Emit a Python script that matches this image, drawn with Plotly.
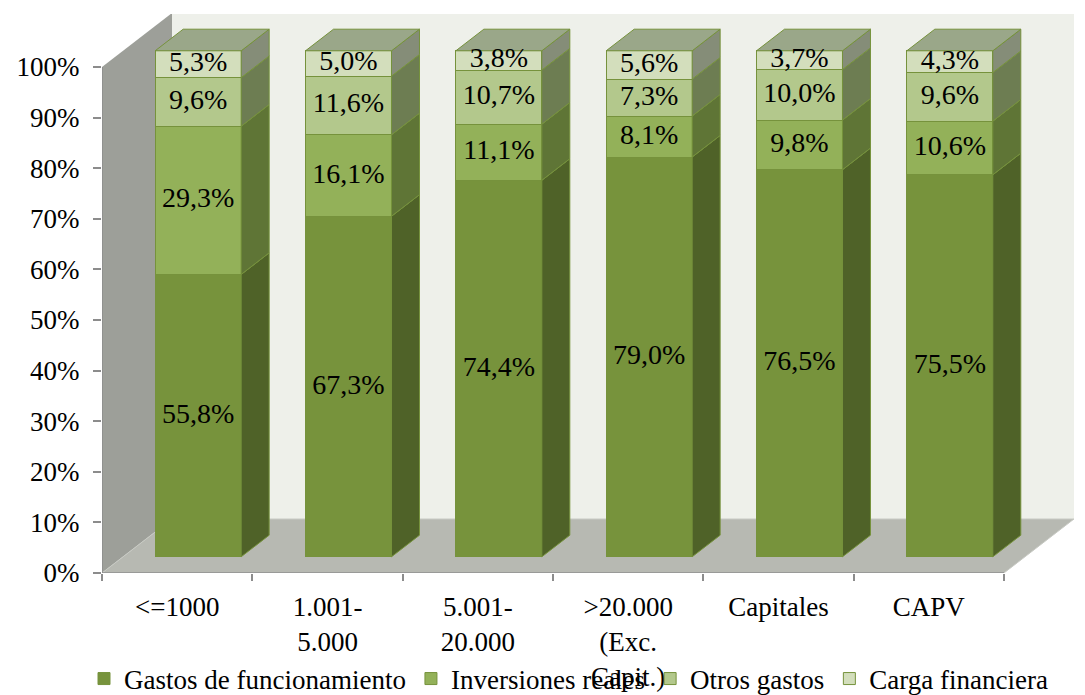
import plotly.graph_objects as go

categories = ["<=1000", "1.001-<br>5.000", "5.001-<br>20.000", ">20.000<br>(Exc.<br>Capit.)", "Capitales", "CAPV"]
series_names = ["Gastos de funcionamiento", "Inversiones reales", "Otros gastos", "Carga financiera"]
gastos = [55.8, 67.3, 74.4, 79.0, 76.5, 75.5]
inversiones = [29.3, 16.1, 11.1, 8.1, 9.8, 10.6]
otros = [9.6, 11.6, 10.7, 7.3, 10.0, 9.6]
carga = [5.3, 5.0, 3.8, 5.6, 3.7, 4.3]
y_ticks = [0, 10, 20, 30, 40, 50, 60, 70, 80, 90, 100]

series = [gastos, inversiones, otros, carga]
front_colors = ["#77933C", "#93B159", "#B3C88C", "#D3DEBC"]
side_colors = ["#4F6228", "#5F7536", "#6D7D52", "#858D78"]
top_color = "#9AA789"
edge = "#76923C"
FONT = "Liberation Serif"

# geometry (in data units of the front axes)
W, H = 1085, 695
ml, mr, mt, mb = 102, 5, 14, 122
pw, ph = W - ml - mr, H - mt - mb
n = len(categories)
px_per_cat = 150.33
px_per_unit = 506.0
xr = [-0.5, -0.5 + pw / px_per_cat]
yr = [0, ph / px_per_unit]
Dx, Dy = 70 / px_per_cat, 54 / px_per_unit     # full depth of the 3D box
f0, fd = 0.30, 0.40                              # bar front depth and bar depth fraction
bw = 0.572

fig = go.Figure()

bases = [0.0] * n
for k, vals in enumerate(series):
    fr = [v / 100 for v in vals]
    fig.add_trace(go.Bar(
        x=list(range(n)), y=fr, base=bases[:], width=bw, name=series_names[k],
        marker=dict(color=front_colors[k], line=dict(color=edge, width=1)),
        xaxis="x2", yaxis="y2", hoverinfo="skip"))
    sx, sy = [], []
    for i in range(n):
        b, t = bases[i], bases[i] + fr[i]
        xr_ = i + bw / 2
        sx += [xr_, xr_ + fd * Dx, xr_ + fd * Dx, xr_, xr_, None]
        sy += [b, b + fd * Dy, t + fd * Dy, t, b, None]
    fig.add_trace(go.Scatter(x=sx, y=sy, fill="toself", fillcolor=side_colors[k], mode="lines",
                             line=dict(color=edge, width=1), xaxis="x2", yaxis="y2",
                             showlegend=False, hoverinfo="skip"))
    bases = [bases[i] + fr[i] for i in range(n)]

tx, ty = [], []
for i in range(n):
    t = bases[i]
    tx += [i - bw / 2, i + bw / 2, i + bw / 2 + fd * Dx, i - bw / 2 + fd * Dx, i - bw / 2, None]
    ty += [t, t, t + fd * Dy, t + fd * Dy, t, None]
fig.add_trace(go.Scatter(x=tx, y=ty, fill="toself", fillcolor=top_color, mode="lines",
                         line=dict(color=edge, width=1), xaxis="x2", yaxis="y2",
                         showlegend=False, hoverinfo="skip"))

lx, ly, lt = [], [], []
bases = [0.0] * n
for vals in series:
    for i in range(n):
        v = vals[i] / 100
        lx.append(i)
        ly.append(bases[i] + v / 2)
        lt.append(f"{vals[i]:.1f}%".replace(".", ","))
        bases[i] += v
fig.add_trace(go.Scatter(x=lx, y=ly, text=lt, mode="text", textposition="middle center",
                         textfont=dict(family=FONT, size=28, color="black"),
                         xaxis="x2", yaxis="y2", showlegend=False, hoverinfo="skip"))

x0, x1 = -0.5, n - 0.5
shapes = [
    dict(type="rect", xref="x", yref="y", x0=x0 + Dx, x1=x1 + Dx, y0=Dy, y1=1 + Dy,
         fillcolor="#EEF0EA", line=dict(width=0), layer="below"),
    dict(type="path", xref="x", yref="y",
         path=f"M{x0},0 L{x0},1 L{x0+Dx},{1+Dy} L{x0+Dx},{Dy} Z",
         fillcolor="#9D9F99", line=dict(width=0), layer="below"),
    dict(type="path", xref="x", yref="y",
         path=f"M{x0},0 L{x1},0 L{x1+Dx},{Dy} L{x0+Dx},{Dy} Z",
         fillcolor="#B7B9B2", line=dict(color="#C8CAC4", width=1), layer="below"),
    dict(type="line", xref="x", yref="y", x0=x0, x1=x0, y0=0, y1=1,
         line=dict(color="#8C8C8C", width=1.5), layer="above"),
    dict(type="line", xref="x", yref="y", x0=x0, x1=x1, y0=0, y1=0,
         line=dict(color="#8C8C8C", width=1.5), layer="above"),
]

fig.update_layout(
    width=W, height=H,
    margin=dict(l=ml, r=mr, t=mt, b=mb),
    paper_bgcolor="white", plot_bgcolor="rgba(0,0,0,0)",
    barmode="stack",
    shapes=shapes,
    font=dict(family=FONT, size=27, color="black"),
    hovermode=False,
    xaxis=dict(range=xr, tickvals=list(range(n)), ticktext=categories, ticks="",
               showgrid=False, zeroline=False, showline=False, automargin=False,
               minor=dict(tickvals=[i - 0.5 for i in range(n + 1)], ticks="outside",
                          ticklen=7, tickcolor="#8C8C8C", tickwidth=1.5, showgrid=False),
               ticklabelstandoff=15, tickfont=dict(family=FONT, size=27)),
    yaxis=dict(range=yr, tickvals=[v / 100 for v in y_ticks], ticktext=[f"{v}%" for v in y_ticks],
               ticks="outside", ticklen=8, tickcolor="#8C8C8C", tickwidth=1.5,
               showgrid=False, zeroline=False, showline=False, automargin=False,
               ticklabelstandoff=8, tickfont=dict(family=FONT, size=27)),
    xaxis2=dict(range=[xr[0] - f0 * Dx, xr[1] - f0 * Dx], overlaying="x", visible=False),
    yaxis2=dict(range=[yr[0] - f0 * Dy, yr[1] - f0 * Dy], overlaying="y", visible=False),
    legend=dict(orientation="h", xref="container", yref="container",
                x=84 / W, xanchor="left", y=1 - 679 / H, yanchor="middle",
                traceorder="normal", font=dict(family=FONT, size=27), bgcolor="rgba(0,0,0,0)"),
)

fig.write_html("out.html", config={"displayModeBar": False},
               post_script="document.body.style.margin='0';")
